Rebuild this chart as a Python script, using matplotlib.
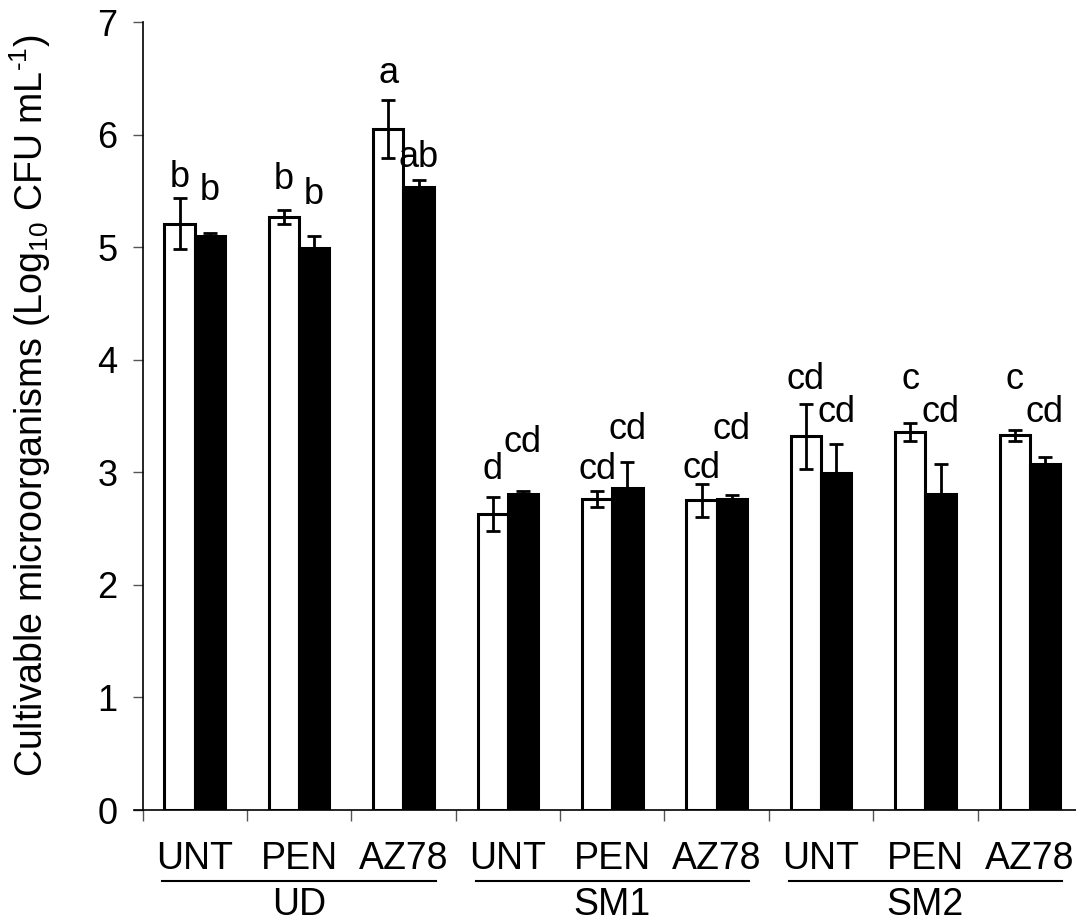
import matplotlib
matplotlib.use("Agg")
import matplotlib.pyplot as plt
import matplotlib.transforms as mtransforms
from matplotlib.lines import Line2D
import numpy as np

plt.rcParams['font.family'] = ['Liberation Sans', 'DejaVu Sans']
plt.rcParams['mathtext.fontset'] = 'custom'
plt.rcParams['mathtext.rm'] = 'Liberation Sans'
plt.rcParams['mathtext.default'] = 'regular'

# ---- data ----
groups = ["UD", "SM1", "SM2"]
treatments = ["UNT", "PEN", "AZ78"]
white_vals = [5.21, 5.27, 6.05, 2.63, 2.76, 2.75, 3.32, 3.36, 3.33]
white_err = [0.23, 0.06, 0.26, 0.15, 0.07, 0.15, 0.29, 0.08, 0.05]
black_vals = [5.10, 4.99, 5.53, 2.81, 2.86, 2.76, 2.99, 2.81, 3.07]
black_err = [0.03, 0.11, 0.07, 0.02, 0.23, 0.04, 0.26, 0.26, 0.07]
white_letters = ["b", "b", "a", "d", "cd", "cd", "cd", "c", "c"]
black_letters = ["b", "b", "ab", "cd", "cd", "cd", "cd", "cd", "cd"]
# annotation heights (layout, data units)
white_letter_y = [5.53, 5.52, 6.46, 2.94, 2.94, 2.95, 3.74, 3.74, 3.74]
black_letter_y = [5.42, 5.38, 5.71, 3.18, 3.30, 3.30, 3.45, 3.45, 3.45]
yticks = [0, 1, 2, 3, 4, 5, 6, 7]

W, H = 1076, 924
fig = plt.figure(figsize=(W / 100, H / 100), dpi=100)
left, right, bottom, top = 142.5, 1082, 810, 22
ax = fig.add_axes([left / W, 1 - bottom / H, (right - left) / W, (bottom - top) / H])

n = len(white_vals)
x = np.arange(n) + 0.5
bw = 0.29
ax.bar(x - bw / 2, white_vals, bw, color="white", edgecolor="black", linewidth=2.2, zorder=2)
ax.bar(x + bw / 2, black_vals, bw, color="black", edgecolor="black", linewidth=2.2, zorder=2)
ax.errorbar(x - bw / 2, white_vals, yerr=white_err, fmt="none", ecolor="black",
            elinewidth=2, capsize=5, capthick=2, zorder=3)
ax.errorbar(x + bw / 2, black_vals, yerr=black_err, fmt="none", ecolor="black",
            elinewidth=2, capsize=5, capthick=2, zorder=3)

fs = 26
for i in range(n):
    ax.text(x[i] - bw / 2, white_letter_y[i], white_letters[i], ha="center", va="baseline", fontsize=fs)
    ax.text(x[i] + bw / 2, black_letter_y[i], black_letters[i], ha="center", va="baseline", fontsize=fs)

ax.set_xlim(0, n)
ax.set_ylim(0, 7)
ax.set_yticks(yticks)
ax.set_yticklabels([str(t) for t in yticks], fontsize=fs)
ax.set_xticks(np.arange(n))
ax.set_xticklabels([])
ax.tick_params(axis="y", direction="out", length=7, width=1, pad=11, color="#555555")
ax.tick_params(axis="x", direction="out", length=8, width=1, color="#555555")
for s in ["top", "right"]:
    ax.spines[s].set_visible(False)
for s in ["left", "bottom"]:
    ax.spines[s].set_linewidth(1.2)
ax.spines["bottom"].set_bounds(-0.08, n)
ax.spines["bottom"].set_position(("data", 0))

trans = mtransforms.blended_transform_factory(ax.transData, fig.transFigure)

def yf(py):
    return 1 - py / H

labels = [t for g in groups for t in treatments]
for i, lab in enumerate(labels):
    ax.text(x[i], yf(859), lab, transform=trans, ha="center", va="center", fontsize=27, clip_on=False)

for gi, g in enumerate(groups):
    x0 = x[gi * 3] - 0.31
    x1 = x[gi * 3 + 2] + 0.31
    fig.add_artist(Line2D([x0, x1], [yf(880.5), yf(880.5)], transform=trans, color="black", linewidth=1.5))
    ax.text((x0 + x1) / 2, yf(905), g, transform=trans, ha="center", va="center", fontsize=27, clip_on=False)

fig.text(30 / W, yf(406), r"Cultivable microorganisms (Log$_{10}$ CFU mL$^{\text{-}1}$)",
         rotation=90, ha="center", va="center", fontsize=27)

fig.savefig("out.png", dpi=100)
